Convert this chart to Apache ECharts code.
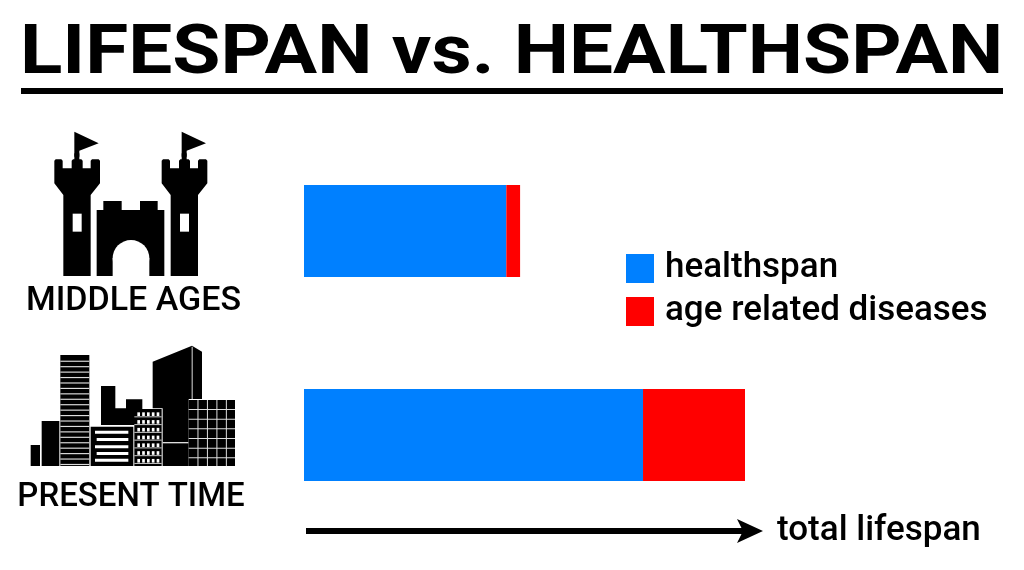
<!DOCTYPE html>
<html><head><meta charset="utf-8">
<style>html,body{margin:0;padding:0;background:#fff}#c{width:1024px;height:570px}</style>
<script src="https://cdn.jsdelivr.net/npm/echarts@6/dist/echarts.min.js"></script></head>
<body><div id="c"></div>
<script>
const titleText = 'LIFESPAN vs. HEALTHSPAN';
const periods = ['MIDDLE AGES', 'PRESENT TIME'];
const healthspan = [36.7, 61.5];
const ageRelatedDiseases = [2.5, 18.5];
const seriesNames = ['healthspan', 'age related diseases'];
const axisCaption = 'total lifespan';
const BLUE = '#0080ff', RED = '#ff0000', FF = 'Roboto, sans-serif';

function rect(x1, y1, x2, y2, fill) {
  return {type: 'rect', shape: {x: x1, y: y1, width: x2 - x1, height: y2 - y1}, style: {fill: fill || '#000'}, silent: true};
}
function poly(pts, fill) { return {type: 'polygon', shape: {points: pts}, style: {fill: fill || '#000'}, silent: true}; }

function tower(dx) {
  const p = a => a.map(q => [q[0] + dx, q[1]]);
  return [
    poly(p([[163,122],[167,118],[184,118],[188,122],[188,145],[215,145],[215,122],[219,118],[244,118],[248,122],[248,145],[272,145],[272,122],[276,118],[296,118],[300,122],[300,190],[272,225],[272,468],[190,468],[190,225],[163,190]])),
    rect(223 + dx, 100, 238 + dx, 125),
    poly(p([[223,35],[296,70],[238,92],[238,110],[223,110]])),
    rect(218 + dx, 281, 245 + dx, 335, '#fff')
  ];
}
const castle = [...tower(0), ...tower(322),
  poly([[290,270],[310,270],[310,243],[365,243],[365,270],[420,270],[420,243],[473,243],[473,270],[493,270],[493,468],[290,468]]),
  {type: 'circle', shape: {cx: 393, cy: 415, r: 55}, style: {fill: '#fff'}, silent: true},
  rect(338, 415, 448, 470, '#fff')
];

const city = [rect(92,345,120,408), rect(125,273,178,408), rect(181,75,268,408)];
for (let y = 92; y < 405; y += 16.3) city.push(rect(181, y, 268, y + 3.5, '#ddd'));
city.push(
  poly([[303,168],[346,168],[346,235],[378,235],[378,208],[427,208],[427,285],[303,285]]),
  rect(272,290,400,408),
  rect(403,237,485,408),
  poly([[458,95],[576,47],[606,65],[606,207],[566,207],[566,408],[488,408],[488,235],[458,235]]),
  rect(575,50,578,207,'#ddd'), rect(488,336,566,340,'#ddd'),
  rect(566,210,705,408)
);
[302,324,346,366,386].forEach((y, i) => city.push(rect(i % 2 ? 290 : 285, y, 385, y + 9, '#fff')));
for (let r = 0; r < 7; r++) for (let c = 0; c < 5; c++) {
  const x = 412 + c * 14.5, y = 247 + r * 23.3;
  city.push(rect(x, y, x + 8, y + 11, '#fff'));
}
for (let r = 0; r < 7; r++) city.push(rect(403, 259 + r * 23.3, 485, 262 + r * 23.3, '#ccc'));
for (let c = 1; c < 5; c++) { const x = 566 + c * 28.4; city.push(rect(x - 2, 210, x + 1, 408, '#ddd')); }
for (let r = 1; r < 7; r++) { const y = 210 + r * 29; city.push(rect(566, y - 2, 705, y + 1, '#ddd')); }

const chart = echarts.init(document.getElementById('c'), null, {renderer: 'canvas'});
chart.setOption({
  animation: false,
  backgroundColor: '#fff',
  grid: {left: 304, top: 129, width: 441, height: 408, containLabel: false},
  xAxis: {type: 'value', min: 0, max: 80, show: false},
  yAxis: {type: 'category', data: periods, inverse: true, show: false},
  legend: {
    orient: 'vertical', left: 626, top: 251, padding: 0, itemWidth: 28, itemHeight: 29, itemGap: 8, icon: 'rect',
    data: seriesNames, selectedMode: false,
    textStyle: {fontFamily: FF, fontWeight: 500, fontSize: 35, color: '#000', padding: [0, 0, 0, 6]}
  },
  series: [
    {name: seriesNames[0], type: 'bar', stack: 't', data: healthspan, barWidth: 92, itemStyle: {color: BLUE}},
    {name: seriesNames[1], type: 'bar', stack: 't', data: ageRelatedDiseases, barWidth: 92, itemStyle: {color: RED}}
  ],
  graphic: {elements: [
    {type: 'text', x: 20, y: 22, scaleX: 1.151, style: {text: titleText, font: 'bold 68px ' + FF, fill: '#000'}, silent: true},
    rect(21, 88, 1003, 94),
    {type: 'group', x: 0, y: 120, scaleX: 1/3, scaleY: 1/3, children: castle, silent: true},
    {type: 'group', x: 0, y: 330, scaleX: 1/3, scaleY: 1/3, children: city, silent: true},
    {type: 'text', x: 133.5, y: 302, scaleX: 1.03, style: {text: periods[0], font: '500 33px ' + FF, fill: '#000', align: 'center', verticalAlign: 'middle'}, silent: true},
    {type: 'text', x: 131, y: 498, style: {text: periods[1], font: '500 33px ' + FF, fill: '#000', align: 'center', verticalAlign: 'middle'}, silent: true},
    rect(306, 528, 745, 534),
    poly([[737,519],[763,531],[737,543],[743,531]]),
    {type: 'text', x: 777, y: 531, style: {text: axisCaption, font: '500 35px ' + FF, fill: '#000', verticalAlign: 'middle'}, silent: true}
  ]}
});
</script></body></html>
